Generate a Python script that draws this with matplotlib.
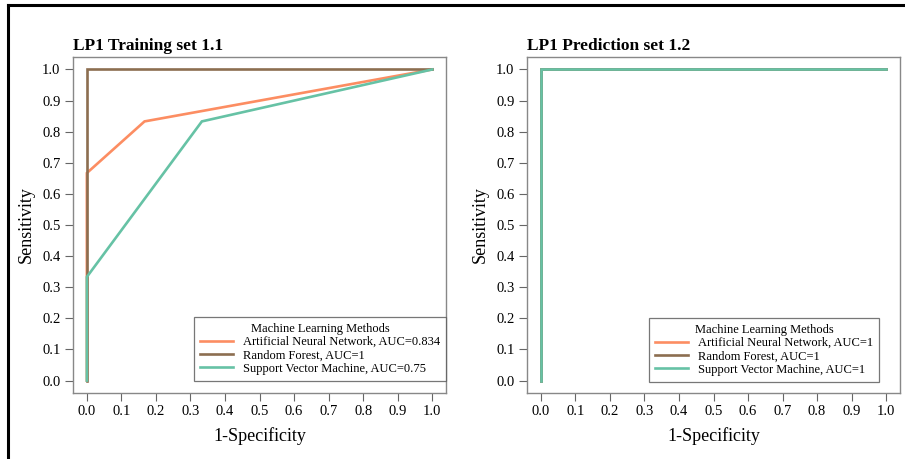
import matplotlib
matplotlib.use("Agg")
import matplotlib.pyplot as plt
from matplotlib.lines import Line2D

plt.rcParams['font.family'] = ['Liberation Serif', 'DejaVu Serif']

# ROC points (1-specificity, sensitivity)
ann_train_x = [0, 0, 0.167, 1]
ann_train_y = [0, 0.667, 0.833, 1]
rf_train_x = [0, 0, 1]
rf_train_y = [0, 1, 1]
svm_train_x = [0, 0, 0.333, 1]
svm_train_y = [0, 0.333, 0.833, 1]

ann_pred_x = [0, 0, 1]
ann_pred_y = [0, 1, 1]
rf_pred_x = [0, 0, 1]
rf_pred_y = [0, 1, 1]
svm_pred_x = [0, 0, 1]
svm_pred_y = [0, 1, 1]

train_labels = ["Artificial Neural Network, AUC=0.834",
                "Random Forest, AUC=1",
                "Support Vector Machine, AUC=0.75"]
pred_labels = ["Artificial Neural Network, AUC=1",
               "Random Forest, AUC=1",
               "Support Vector Machine, AUC=1"]
titles = ["LP1 Training set 1.1", "LP1 Prediction set 1.2"]
ticks = [i / 10 for i in range(11)]

colors = ["#fc8d62", "#8c6e50", "#66c2a5"]

fig = plt.figure(figsize=(9.05, 4.59), dpi=100)
ax1 = fig.add_axes([0.0807, 0.1438, 0.4122, 0.732])
ax2 = fig.add_axes([0.5823, 0.1438, 0.4122, 0.732])

data = [
    ([(ann_train_x, ann_train_y), (rf_train_x, rf_train_y), (svm_train_x, svm_train_y)], train_labels, (1.0, 0.036)),
    ([(ann_pred_x, ann_pred_y), (rf_pred_x, rf_pred_y), (svm_pred_x, svm_pred_y)], pred_labels, (0.944, 0.033)),
]

for ax, (curves, labels, anchor), title in zip([ax1, ax2], data, titles):
    for (x, y), lab, c in zip(curves, labels, colors):
        ax.plot(x, y, color=c, lw=1.9, label=lab, solid_joinstyle='miter')
    ax.set_xlim(-0.04, 1.04)
    ax.set_ylim(-0.04, 1.04)
    ax.set_xticks(ticks)
    ax.set_yticks(ticks)
    ax.set_xticklabels([f"{t:.1f}" for t in ticks])
    ax.set_yticklabels([f"{t:.1f}" for t in ticks])
    ax.tick_params(direction='out', length=6, width=0.8, color='#666666',
                   labelsize=10.5, pad=3)
    for s in ax.spines.values():
        s.set_color('#888888')
        s.set_linewidth(1.0)
    ax.set_xlabel("1-Specificity", fontsize=13, labelpad=6)
    ax.set_ylabel("Sensitivity", fontsize=13, labelpad=5)
    ax.set_title(title, loc='left', fontsize=12.5, fontweight='bold', pad=5)
    leg = ax.legend(loc='lower right', bbox_to_anchor=anchor, fontsize=9,
                    title="Machine Learning Methods", title_fontsize=9,
                    frameon=True, fancybox=False, edgecolor='#555555',
                    borderpad=0.5, labelspacing=0.1, handlelength=2.6,
                    handletextpad=0.8, borderaxespad=0)
    leg.get_frame().set_linewidth(0.9)

# black frame lines at top and left of the image
fig.add_artist(Line2D([0.0088, 1.0], [0.989, 0.989], color='black', lw=2.2,
                      transform=fig.transFigure))
fig.add_artist(Line2D([0.0088, 0.0088], [0.0, 0.989], color='black', lw=2.2,
                      transform=fig.transFigure))

fig.savefig("out.png", dpi=100)
